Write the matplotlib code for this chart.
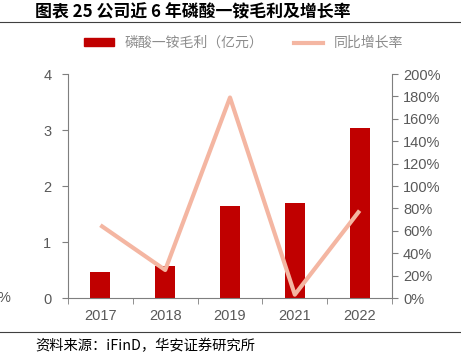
import numpy as np
import matplotlib.pyplot as plt
from matplotlib.ticker import FuncFormatter, FixedLocator
from matplotlib.patches import Patch
from matplotlib.lines import Line2D

plt.rcParams['font.family'] = ['Liberation Sans', 'Noto Sans CJK SC', 'DejaVu Sans']

years = ['2017', '2018', '2019', '2021', '2022']
profit = [0.46, 0.57, 1.64, 1.70, 3.03]          # 亿元
growth = [65, 25, 179, 3, 78]                     # %

RED = '#C00000'
PINK = '#F4B6A2'
GRAY = '#595959'
AX = '#7F7F7F'

fig = plt.figure(figsize=(4.61, 3.61), dpi=100)
ax = fig.add_axes([68/461, 1-298/361, 324/461, 224/361])
ax2 = ax.twinx()

x = np.arange(len(years))
ax.bar(x, profit, width=0.31, color=RED, zorder=2)
ax2.plot(x, [g / 100 for g in growth], color=PINK, lw=3, solid_capstyle='butt', zorder=3)

ax.set_xlim(-0.5, len(years) - 0.5)
ax.set_ylim(0, 4)
ax2.set_ylim(0, 2)
ax.set_yticks([0, 1, 2, 3, 4])
ax2.set_yticks(np.arange(0, 2.01, 0.2))
ax2.yaxis.set_major_formatter(FuncFormatter(lambda v, p: f'{v*100:.0f}%'))
ax.set_xticks(x)
ax.set_xticklabels(years)
ax.xaxis.set_minor_locator(FixedLocator(np.arange(-0.5, len(years), 1.0)))
ax.tick_params(axis='x', which='major', length=0, pad=8)
ax.tick_params(axis='x', which='minor', length=4, color=AX, direction='out')

for a in (ax, ax2):
    a.spines['top'].set_visible(False)
    for s in ('left', 'right', 'bottom'):
        a.spines[s].set_color(AX)
    a.tick_params(labelsize=10.5, labelcolor=GRAY, color=AX)
ax.spines['right'].set_visible(False)
ax2.spines['left'].set_visible(False)
ax2.spines['bottom'].set_visible(False)
ax.tick_params(axis='y', length=4, pad=8)
ax2.tick_params(axis='y', length=4, pad=4)

ax.set_zorder(ax2.get_zorder() - 1)
ax2.patch.set_visible(False)

# legend
handles = [Patch(color=RED), Line2D([], [], color=PINK, lw=3)]
fig.legend(handles, ['磷酸一铵毛利（亿元）', '同比增长率'], loc='center',
           bbox_to_anchor=(244/461, 1-43/361), ncol=2, frameon=False,
           labelcolor='#8C8C8C', handlelength=2.1, handletextpad=0.8,
           handleheight=0.5, columnspacing=2.2,
           prop={'family': ['Noto Sans CJK SC'], 'size': 10})

# title, rules, source
fig.text(35/461, 1-12/361, '图表 25 公司近 6 年磷酸一铵毛利及增长率', fontsize=12.2,
         fontweight='bold', va='center', family=['Noto Sans CJK SC'])
fig.add_artist(Line2D([0, 1], [1-22/361, 1-22/361], color='#404040', lw=0.8))
fig.add_artist(Line2D([0, 1], [1-332/361, 1-332/361], color='#404040', lw=0.8))
fig.text(35/461, 1-346/361, '资料来源：iFinD，华安证券研究所', fontsize=10.3,
         va='center', family=['Noto Sans CJK SC'])
fig.text(-2/461, 1-298/361, '%', fontsize=10.5, color=GRAY, va='center')

fig.savefig('out.png', dpi=100)
